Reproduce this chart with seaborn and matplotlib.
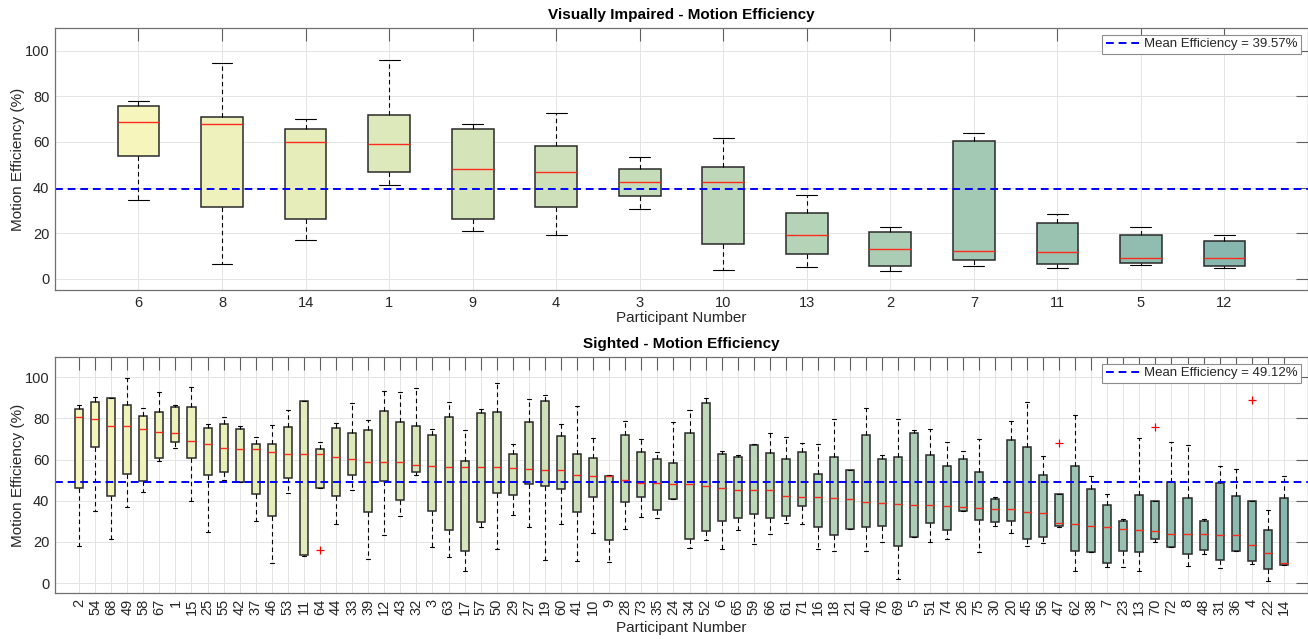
import matplotlib
matplotlib.use('Agg')
import matplotlib.pyplot as plt
import seaborn as sns
import numpy as np
import pandas as pd
from matplotlib.lines import Line2D

# Visually impaired participants (sorted by median), box stats in %
vi_ids = ['6', '8', '14', '1', '9', '4', '3', '10', '13', '2', '7', '11', '5', '12']
vi_lo = [34.6, 6.3, 17.1, 41.0, 21.0, 19.1, 30.7, 3.9, 5.3, 3.5, 5.8, 4.7, 6.1, 4.7]
vi_q1 = [54.0, 31.4, 26.3, 47.0, 26.4, 31.5, 36.2, 15.2, 11.1, 5.8, 8.3, 6.4, 6.9, 5.8]
vi_med = [68.8, 67.8, 60.1, 59.0, 48.0, 46.7, 42.5, 42.3, 19.1, 13.3, 12.3, 11.7, 9.3, 9.1]
vi_q3 = [75.5, 70.7, 65.7, 71.7, 65.7, 58.4, 48.3, 49.2, 29.0, 20.4, 60.2, 24.4, 19.4, 16.5]
vi_hi = [78.0, 94.6, 69.8, 95.9, 67.6, 72.7, 53.3, 61.6, 36.7, 22.9, 63.8, 28.5, 22.9, 19.0]
vi_mean = 39.57

# Sighted participants (sorted by median)
s_ids = ['2', '54', '68', '49', '58', '67', '1', '15', '25', '55', '42', '37', '46', '53',
         '11', '64', '44', '33', '39', '12', '43', '32', '3', '63', '17', '57', '50', '29',
         '27', '19', '60', '41', '10', '9', '28', '73', '35', '24', '34', '52', '6', '65',
         '59', '66', '61', '71', '16', '18', '21', '40', '76', '69', '5', '51', '74', '26',
         '75', '30', '20', '45', '56', '47', '62', '38', '7', '23', '13', '70', '72', '8',
         '48', '31', '36', '4', '22', '14']
s_lo = [17.9, 35.2, 21.4, 37.0, 44.0, 59.1, 65.6, 39.9, 25.0, 50.3, 49.0, 30.0, 9.7, 43.8,
        13.0, 46.4, 28.7, 45.0, 11.9, 23.5, 32.5, 52.3, 17.7, 12.8, 5.8, 27.1, 16.7, 33.1,
        27.4, 11.4, 28.7, 10.7, 24.5, 10.2, 26.3, 32.3, 31.5, 40.6, 17.0, 21.1, 16.4, 25.6,
        18.8, 23.9, 29.4, 28.6, 16.4, 15.7, 26.1, 15.6, 19.8, 1.9, 22.6, 19.8, 21.3, 35.1,
        15.3, 27.9, 24.4, 17.9, 19.6, 27.4, 6.0, 15.0, 7.8, 8.0, 5.7, 20.0, 17.5, 8.3,
        14.3, 7.5, 15.4, 9.4, 0.8, 8.8]
s_q1 = [46.4, 65.9, 42.2, 53.2, 49.4, 61.0, 68.7, 60.9, 52.5, 53.9, 49.0, 43.2, 32.8, 51.0,
        13.5, 46.4, 42.5, 52.6, 34.6, 49.5, 40.4, 54.2, 35.2, 26.0, 15.4, 29.7, 43.8, 43.0,
        48.2, 47.2, 45.6, 34.7, 42.0, 21.1, 39.6, 42.0, 35.7, 40.6, 21.6, 25.5, 30.0, 31.7,
        33.4, 31.8, 32.6, 37.2, 27.4, 23.1, 26.1, 27.4, 27.9, 17.9, 22.6, 29.2, 25.6, 35.1,
        30.4, 29.9, 30.0, 21.3, 22.4, 27.8, 15.4, 15.1, 9.9, 15.6, 15.1, 21.4, 17.5, 14.1,
        16.1, 11.4, 15.4, 10.9, 6.8, 8.8]
s_med = [80.8, 79.5, 76.3, 76.1, 74.7, 73.4, 72.9, 69.0, 67.4, 65.7, 65.1, 64.9, 63.8, 62.8,
         62.5, 62.5, 61.4, 60.1, 58.9, 58.6, 58.6, 57.3, 56.7, 56.5, 56.5, 56.3, 56.3, 55.8,
         55.5, 54.9, 54.7, 52.3, 52.1, 52.0, 50.0, 48.7, 48.5, 48.2, 47.9, 47.1, 46.4, 45.3,
         45.0, 45.0, 42.5, 41.6, 41.6, 41.4, 40.6, 39.6, 39.0, 38.6, 38.0, 38.0, 37.3, 37.0,
         36.7, 36.2, 36.0, 34.6, 34.1, 29.4, 28.6, 27.9, 27.3, 26.1, 25.8, 25.2, 23.7, 23.7,
         23.7, 23.4, 23.1, 18.7, 14.8, 9.9]
s_q3 = [84.6, 88.1, 89.9, 86.4, 81.3, 83.1, 85.7, 85.7, 75.2, 77.3, 74.7, 67.7, 67.7, 75.6,
        88.5, 65.3, 75.2, 72.7, 74.5, 83.6, 78.1, 76.5, 71.8, 80.8, 59.3, 82.5, 83.0, 62.7,
        78.1, 88.3, 71.6, 62.5, 61.0, 52.1, 71.8, 63.6, 60.4, 58.1, 72.7, 87.3, 62.5, 61.2,
        67.2, 63.3, 60.1, 63.8, 53.1, 61.2, 54.9, 71.9, 60.2, 61.4, 73.1, 62.0, 56.7, 60.4,
        54.1, 40.6, 69.6, 66.1, 52.3, 43.2, 57.0, 45.9, 37.7, 30.2, 42.7, 40.1, 49.0, 41.4,
        30.2, 48.4, 42.5, 40.1, 26.0, 41.4]
s_hi = [86.4, 90.6, 89.9, 99.8, 85.1, 92.9, 86.5, 95.5, 77.4, 80.5, 76.5, 70.8, 76.9, 83.9,
        88.5, 68.3, 77.6, 87.7, 79.2, 93.5, 92.9, 94.6, 74.8, 88.1, 74.4, 84.7, 97.2, 67.4,
        89.3, 91.6, 77.1, 85.9, 70.5, 52.4, 78.7, 69.8, 63.5, 78.4, 84.3, 90.1, 64.4, 62.3,
        67.7, 72.7, 71.1, 68.0, 67.4, 79.7, 54.9, 85.1, 62.3, 79.7, 74.4, 75.0, 68.7, 64.4,
        70.1, 42.0, 78.7, 88.1, 61.7, 43.2, 81.5, 52.1, 43.3, 31.2, 70.5, 40.1, 68.3, 66.9,
        31.2, 57.0, 55.2, 40.1, 35.4, 51.8]
s_out_ids = ['64', '47', '70', '4']
s_out_vals = [15.9, 67.9, 75.6, 88.8]
s_mean = 49.12

sns.set_theme(style='whitegrid')
plt.rcParams['font.family'] = ['Liberation Sans', 'DejaVu Sans']
TXT = '#262626'


def box_samples(ids, lo, q1, med, q3, hi):
    # 9 samples per participant reproduce the quartiles exactly (linear percentiles)
    rows = []
    for p, a, b, c, d, e in zip(ids, lo, q1, med, q3, hi):
        for v in [a, b, b, c, c, d, d, e, e]:
            rows.append((p, v))
    return pd.DataFrame(rows, columns=['participant', 'efficiency'])


def draw_panel(ax, ids, lo, q1, med, q3, hi, mean_eff, title, out_ids=(), out_vals=(), rot=0):
    n = len(ids)
    base = plt.get_cmap('summer_r')(np.linspace(0, 1, n))[:, :3]
    colors = [tuple(c * 0.5 + 0.5) for c in base]
    df = box_samples(ids, lo, q1, med, q3, hi)
    sns.boxplot(data=df, x='participant', y='efficiency', hue='participant', order=ids,
                hue_order=ids, palette=colors, legend=False, width=0.5, whis=(0, 100),
                showfliers=False, linecolor='#2a2a2a', linewidth=1.1,
                medianprops=dict(color='#ff2b1c', linewidth=1.0),
                whiskerprops=dict(color='black', linestyle=(0, (4, 3)), linewidth=0.8),
                capprops=dict(color='black', linewidth=0.8), ax=ax)
    if len(out_ids):
        pos = [ids.index(p) for p in out_ids]
        sns.scatterplot(x=pos, y=list(out_vals), marker='+', color='red', s=28,
                        linewidth=0.9, ax=ax, zorder=5)
    ax.axhline(mean_eff, color='blue', linestyle=(0, (4, 2.5)), linewidth=1.4)
    handle = Line2D([0], [0], color='blue', linestyle=(0, (4, 2.5)), linewidth=1.4)
    leg = ax.legend([handle], [f'Mean Efficiency = {mean_eff:.2f}%'], loc='upper right',
                    fontsize=9.5, fancybox=False, framealpha=1, borderpad=0.25,
                    handlelength=2.6, handletextpad=0.3, borderaxespad=0.55)
    leg.get_frame().set_edgecolor('#8c8c8c')
    leg.get_frame().set_linewidth(0.8)
    for t in leg.get_texts():
        t.set_color(TXT)

    ax.set_ylim(-5, 110)
    ax.set_yticks([0, 20, 40, 60, 80, 100])
    ax.set_xlim(-1, n) if rot == 0 else ax.set_xlim(-1.5, n + 0.5)
    ax.set_xticks(range(n))
    ax.set_xticklabels(ids, rotation=rot)
    ax.grid(True, color='#e4e4e4', linewidth=0.7)
    ax.set_axisbelow(True)
    ax.tick_params(direction='in', length=9, width=0.8, color='#5e5e5e', top=True,
                   right=True, labelsize=10.5, labelcolor=TXT, pad=4)
    for s in ax.spines.values():
        s.set_color('#707070')
        s.set_linewidth(0.9)
    ax.set_xlabel('Participant Number', fontsize=11, color=TXT,
                  labelpad=1 if rot == 0 else 4)
    ax.set_ylabel('Motion Efficiency (%)', fontsize=11, color=TXT, labelpad=0)
    ax.set_title(title, fontsize=11, fontweight='bold', color='black', pad=6)


fig = plt.figure(figsize=(13.08, 6.39), dpi=100)
ax1 = fig.add_axes([0.042, 0.5457, 0.958, 0.411])
ax2 = fig.add_axes([0.042, 0.0715, 0.958, 0.3703])

draw_panel(ax1, vi_ids, vi_lo, vi_q1, vi_med, vi_q3, vi_hi, vi_mean,
           'Visually Impaired - Motion Efficiency')
draw_panel(ax2, s_ids, s_lo, s_q1, s_med, s_q3, s_hi, s_mean,
           'Sighted - Motion Efficiency', s_out_ids, s_out_vals, rot=90)

fig.savefig('out.png', dpi=100)
